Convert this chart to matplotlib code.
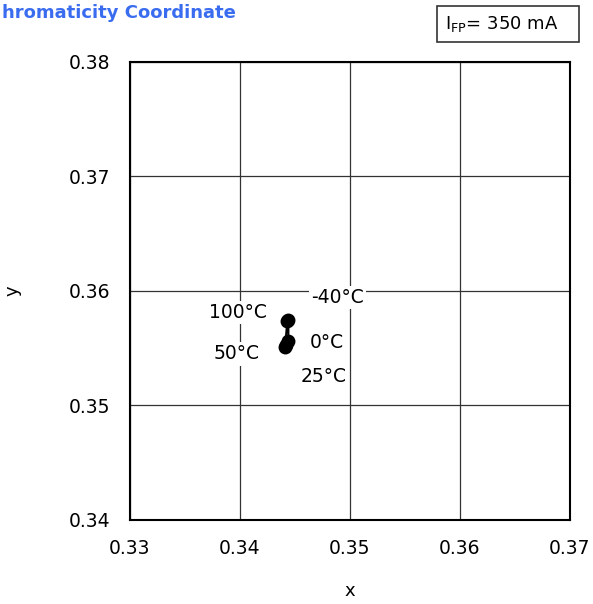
import matplotlib
matplotlib.use("Agg")
import matplotlib.pyplot as plt
from matplotlib.patches import Rectangle

plt.rcParams['font.family'] = ['DejaVu Sans']
plt.rcParams['mathtext.default'] = 'regular'

temps = ["-40°C", "0°C", "25°C", "50°C", "100°C"]
cx = [0.3444, 0.3444, 0.3442, 0.3441, 0.3443]
cy = [0.3575, 0.3556, 0.3553, 0.3551, 0.3574]
# label anchor positions (data coords)
lab_x = [0.3489, 0.3479, 0.3476, 0.3397, 0.3398]
lab_y = [0.3594, 0.3555, 0.3525, 0.3545, 0.3581]

xticks = [0.33, 0.34, 0.35, 0.36, 0.37]
yticks = [0.34, 0.35, 0.36, 0.37, 0.38]

W, H = 593, 604
fig = plt.figure(figsize=(W/100, H/100), dpi=100)
ax = fig.add_axes([130/W, 1-520/H, 440/W, 458/H])
ax.set_xlim(0.33, 0.37)
ax.set_ylim(0.34, 0.38)
ax.set_xticks(xticks)
ax.set_yticks(yticks)
ax.set_xticklabels([f"{v:.2f}" for v in xticks])
ax.set_yticklabels([f"{v:.2f}" for v in yticks])
ax.tick_params(length=0, labelsize=13.5, pad=14)
ax.grid(True, color='#333333', linewidth=0.9)
for s in ax.spines.values():
    s.set_linewidth(1.5)
    s.set_color('black')

ax.plot(cx, cy, color='black', linewidth=1.5, marker='o', markersize=9, zorder=5)

for t, x, y in zip(temps, lab_x, lab_y):
    ax.text(x, y, t, fontsize=13.5, ha='center', va='center', zorder=4,
            bbox=dict(facecolor='white', edgecolor='none', pad=1.5))

ax.set_xlabel("x", fontsize=13, labelpad=17)
ax.set_ylabel("y", fontsize=13, labelpad=34)

fig.text(2/W, 1-13/H, "hromaticity Coordinate", fontsize=13, fontweight='bold',
         color='#3a6cf0', ha='left', va='center')

fig.patches.append(Rectangle((437/W, 1-42/H), 142/W, 36/H, transform=fig.transFigure,
                             facecolor='white', edgecolor='#333333', linewidth=1.2))
fig.text(445/W, 1-24/H, "I$_{FP}$= 350 mA", fontsize=13, ha='left', va='center')

fig.savefig("out.png", dpi=100)
